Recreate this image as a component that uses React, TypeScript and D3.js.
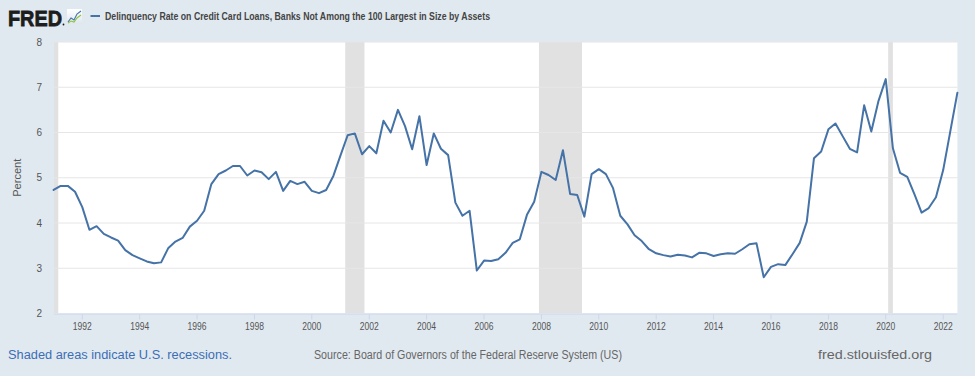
import React from "react";
import * as d3 from "d3";

const START_YEAR = 1991;
const values: number[] = [
  4.73, 4.82, 4.82, 4.69,
  4.35, 3.85, 3.93, 3.76,
  3.68, 3.61, 3.40, 3.29,
  3.22, 3.15, 3.11, 3.13,
  3.45, 3.59, 3.67, 3.92,
  4.05, 4.27, 4.86, 5.08,
  5.16, 5.26, 5.26, 5.05,
  5.16, 5.12, 4.97, 5.13,
  4.71, 4.93, 4.86, 4.91,
  4.71, 4.66, 4.73, 5.04,
  5.50, 5.94, 5.98, 5.52,
  5.70, 5.54, 6.26, 6.00,
  6.50, 6.14, 5.63, 6.36,
  5.28, 5.98, 5.64, 5.50,
  4.45, 4.16, 4.27, 2.95,
  3.17, 3.16, 3.20, 3.34,
  3.56, 3.64, 4.18, 4.47,
  5.13, 5.06, 4.95, 5.61,
  4.64, 4.62, 4.14, 5.08,
  5.19, 5.08, 4.77, 4.16,
  3.97, 3.73, 3.60, 3.42,
  3.33, 3.29, 3.26, 3.30,
  3.28, 3.24, 3.34, 3.33,
  3.27, 3.31, 3.33, 3.32,
  3.42, 3.53, 3.55, 2.80,
  3.03, 3.09, 3.07, 3.31,
  3.56, 4.03, 5.43, 5.58,
  6.07, 6.20, 5.92, 5.64,
  5.56, 6.60, 6.02, 6.70,
  7.18, 5.65, 5.11, 5.02,
  4.63, 4.23, 4.33, 4.57,
  5.17, 6.02, 6.88,
];

const recessionStarts = ["1990-07-01", "2001-03-01", "2007-12-01", "2020-02-01"];
const recessionEnds = ["1991-03-01", "2001-11-01", "2009-06-01", "2020-04-01"];
const yTicks = [2, 3, 4, 5, 6, 7, 8];
const xTickYears = [1992, 1994, 1996, 1998, 2000, 2002, 2004, 2006, 2008, 2010, 2012, 2014, 2016, 2018, 2020, 2022];

const TITLE = "Delinquency Rate on Credit Card Loans, Banks Not Among the 100 Largest in Size by Assets";
const FONT = "'Liberation Sans', Arial, sans-serif";

export default function App() {
  const W = 975, H = 376;
  const left = 53.6, right = 957.4, top = 42, bottom = 313.5;
  const dates = values.map((_, i) => new Date(START_YEAR + Math.floor(i / 4), (i % 4) * 3, 1));
  const x = d3.scaleTime().domain([new Date(1991, 0, 1), new Date(2022, 6, 1)]).range([left, right]);
  const y = d3.scaleLinear().domain([2, 8]).range([bottom, top]);
  const line = d3.line<number>().x((_, i) => x(dates[i])).y((d) => y(d));
  const parse = d3.timeParse("%Y-%m-%d");
  const plotL = 54;

  return (
    <svg width={W} height={H} style={{ position: "absolute", left: 0, top: 0, display: "block" }}>
      <defs>
        <clipPath id="plotclip">
          <rect x={plotL} y={top} width={right - plotL} height={bottom - top} />
        </clipPath>
        <linearGradient id="icon" x1="0" y1="0" x2="0" y2="1">
          <stop offset="0" stopColor="#ffffff" />
          <stop offset="1" stopColor="#dfe6ee" />
        </linearGradient>
      </defs>
      <rect x={0} y={0} width={W} height={H} fill="#e1e9f0" />
      {/* header */}
      <text x={8} y={26} fontFamily={FONT} fontWeight={700} fontSize={22} fill="#1d1d1d" stroke="#1d1d1d" strokeWidth={0.8} textLength={54} lengthAdjust="spacingAndGlyphs">FRED</text>
      <circle cx={63.5} cy={24.5} r={0.9} fill="#1d1d1d" />
      <rect x={67} y={9} width={15} height={15} fill="url(#icon)" />
      <polyline points="68,22 71,18 74,20 77,14 81,11" fill="none" stroke="#4572a7" strokeWidth={1.1} />
      <polyline points="68,23 71,21 74,22 77,18 81,15" fill="none" stroke="#8dc63f" strokeWidth={1.1} />
      <line x1={90.5} x2={100} y1={16} y2={16} stroke="#4572a7" strokeWidth={2} />
      <text x={105} y={20} fontFamily={FONT} fontWeight={700} fontSize={11} fill="#444" textLength={385} lengthAdjust="spacingAndGlyphs">{TITLE}</text>

      {/* plot */}
      <rect x={plotL} y={top} width={right - plotL} height={bottom - top} fill="#ffffff" />
      <g clipPath="url(#plotclip)">
        {recessionStarts.map((s, i) => {
          const x0 = x(parse(s)!), x1 = x(parse(recessionEnds[i])!);
          return <rect key={s} x={x0} y={top} width={x1 - x0} height={bottom - top} fill="#e1e1e1" />;
        })}
      </g>
      {yTicks.slice(1).map((t) => (
        <line key={t} x1={plotL} x2={right} y1={y(t)} y2={y(t)} stroke="#e6e6e6" strokeWidth={1} />
      ))}
      <line x1={plotL} x2={right} y1={bottom + 0.5} y2={bottom + 0.5} stroke="#ccd6eb" strokeWidth={1} />
      {yTicks.map((t) => (
        <text key={t} x={42} y={y(t)} dy="0.35em" textAnchor="end" fontFamily={FONT} fontSize={10} fill="#555">{t}</text>
      ))}
      <text transform={`translate(17,${(top + bottom) / 2}) rotate(-90)`} textAnchor="middle" dy="0.35em" fontFamily={FONT} fontSize={11} fill="#555" textLength={38} lengthAdjust="spacingAndGlyphs">Percent</text>
      {xTickYears.map((yr) => {
        const xx = x(new Date(yr, 0, 1));
        return (
          <g key={yr}>
            <line x1={xx} x2={xx} y1={bottom + 1} y2={bottom + 6} stroke="#ccd6eb" strokeWidth={1} />
            <text x={xx} y={330} textAnchor="middle" fontFamily={FONT} fontSize={10} fill="#555" textLength={19} lengthAdjust="spacingAndGlyphs">{yr}</text>
          </g>
        );
      })}
      <path d={line(values) || ""} fill="none" stroke="#4572a7" strokeWidth={2} strokeLinejoin="round" strokeLinecap="round" />

      {/* footer */}
      <text x={8} y={359} fontFamily={FONT} fontSize={12} fill="#3c6eb4" textLength={224} lengthAdjust="spacingAndGlyphs">Shaded areas indicate U.S. recessions.</text>
      <text x={314} y={359} fontFamily={FONT} fontSize={12} fill="#666" textLength={308} lengthAdjust="spacingAndGlyphs">Source: Board of Governors of the Federal Reserve System (US)</text>
      <text x={932} y={359} textAnchor="end" fontFamily={FONT} fontSize={12} fill="#666" textLength={114} lengthAdjust="spacingAndGlyphs">fred.stlouisfed.org</text>
    </svg>
  );
}
